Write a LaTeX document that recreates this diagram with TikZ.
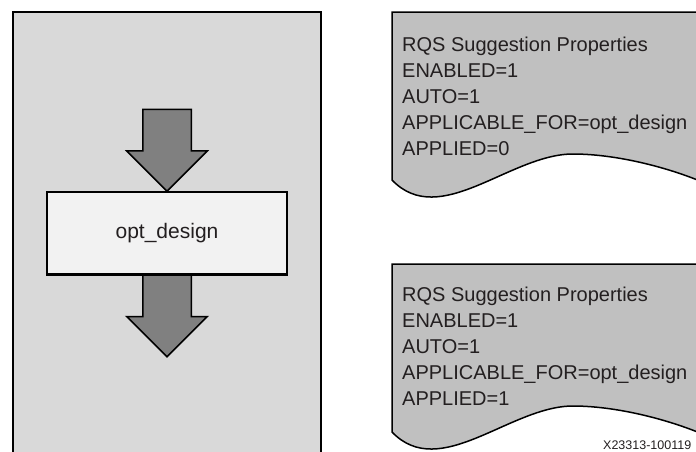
\documentclass[tikz,border=0pt]{standalone}
\usepackage{fontspec}
\setmainfont{Liberation Sans}
\usetikzlibrary{shapes,shapes.arrows,positioning}
\definecolor{panelgray}{HTML}{D9D9D9}
\definecolor{boxgray}{HTML}{F2F2F2}
\definecolor{arrowgray}{HTML}{808080}
\definecolor{docgray}{HTML}{C0C0C0}
\definecolor{inkgray}{HTML}{231F20}
\tikzstyle{panel} = [draw=black, fill=panelgray, line width=1.5pt]
\tikzstyle{stepbox} = [draw=black, fill=boxgray, line width=1.5pt,
    rectangle, minimum width=240pt, minimum height=82pt, inner sep=0pt,
    text=inkgray, font=\fontsize{21}{25}\selectfont]
\tikzstyle{blockarrow} = [draw=black, fill=arrowgray, line width=1.5pt,
    single arrow, single arrow head extend=16pt, minimum height=82pt,
    inner xsep=0pt, inner ysep=23.5pt, outer sep=0pt, rotate=-90]
\tikzstyle{docshape} = [draw=black, fill=docgray, line width=1.5pt]
\tikzstyle{proptext} = [anchor=north west, align=left, inner sep=0pt,
    text=inkgray, font=\fontsize{20}{26}\selectfont]

\begin{document}
\begin{tikzpicture}[x=1pt,y=-1pt]
\useasboundingbox (0,0) rectangle (696,451);
\clip (0,0) rectangle (696,451);

% left panel
\draw [panel] (13,12) rectangle (321,470);

\node [stepbox] (optbox) at (167,233) {opt\_design};

\node [blockarrow, anchor=east] (inarrow) at (optbox.north) {};
\node [blockarrow, anchor=west] (outarrow) at (optbox.south) {};
\draw [black, line width=1.5pt] (optbox.south west) -- (optbox.south east);

% suggestion properties, before
\draw [docshape] (392,180) -- (392,12) -- (720,12) -- (720,190)
    .. controls (680,170) and (620,154) .. (573,154)
    .. controls (510,154) and (440,230) .. (392,180) -- cycle;
\node [proptext] (propsA) at (402,37) {%
    RQS Suggestion Properties\\
    ENABLED=1\\
    AUTO=1\\
    APPLICABLE\_FOR=opt\_design\\
    APPLIED=0};

% suggestion properties, after
\draw [docshape] (392,432) -- (392,264) -- (720,264) -- (720,442)
    .. controls (680,422) and (620,406) .. (573,406)
    .. controls (510,406) and (440,482) .. (392,432) -- cycle;
\node [proptext] (propsB) at (402,287) {%
    RQS Suggestion Properties\\
    ENABLED=1\\
    AUTO=1\\
    APPLICABLE\_FOR=opt\_design\\
    APPLIED=1};

\node [anchor=base west, inner sep=0pt, text=inkgray,
    font=\fontsize{12.5}{14}\selectfont] (figid) at (603,449) {X23313-100119};

\end{tikzpicture}
\end{document}
